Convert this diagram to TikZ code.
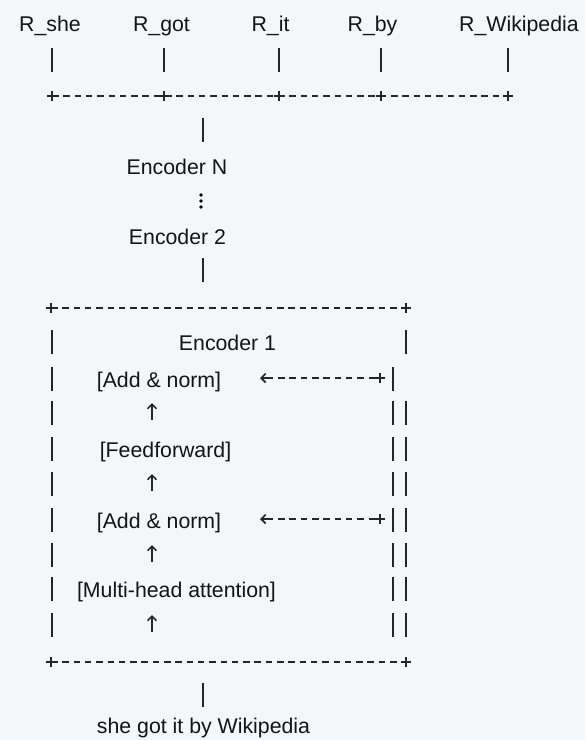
\documentclass[tikz,border=0pt]{standalone}
\usepackage{fontspec}
\setmainfont{Liberation Sans}
\usetikzlibrary{arrows.meta}
\definecolor{paper}{HTML}{F5F6F8}
\definecolor{ink}{HTML}{141414}
\definecolor{stroke}{HTML}{262626}
\tikzset{
  lbl/.style={anchor=base, inner sep=0pt, text=ink, font=\fontsize{21.3}{25}\selectfont},
  bar/.style={draw=stroke, line width=1.6pt},
  rule/.style={draw=stroke, line width=1.7pt, dash pattern=on 6.5pt off 4.8pt},
  plusmark/.pic={\draw[draw=stroke, line width=1.8pt] (-4.8,0) -- (4.8,0) (0,-4.8) -- (0,4.8);},
  arrowtip/.style={draw=stroke, line width=1.7pt, -{Straight Barb[length=4.5pt,width=9pt]}},
}
\begin{document}
\begin{tikzpicture}[x=1pt,y=-1pt]
\fill[paper] (0,0) rectangle (585,740);
\useasboundingbox (0,0) rectangle (585,740);

% output representations
\node[lbl] (rshe)  at (50,31)    {R\_she};
\node[lbl] (rgot)  at (161.5,31) {R\_got};
\node[lbl] (rit)   at (270.5,31) {R\_it};
\node[lbl] (rby)   at (372.5,31) {R\_by};
\node[lbl] (rwiki) at (519,31)   {R\_Wikipedia};
\foreach \x in {52,164,279,381,508} \draw[bar] (\x,48) -- (\x,72);
\draw[rule] (52,96) -- (508,96);
\foreach \x in {52,164,279,381,508} \pic at (\x,96) {plusmark};

% encoder stack
\draw[bar] (203,118) -- (203,142);
\node[lbl] (encN) at (177,174) {Encoder N};
\foreach \y in {195,201,207} \fill[stroke] (201,\y) circle (1.8);
\node[lbl] (enc2) at (177.5,244) {Encoder 2};
\draw[bar] (203,258) -- (203,282);

% encoder 1 frame
\draw[rule] (51,308) -- (406,308);
\foreach \x in {51,406} \pic at (\x,308) {plusmark};
\foreach \b in {350,387,421,457,492,528,563,597,633} \draw[bar] (52,\b-20) -- (52,\b+4);
\foreach \b in {350,421,457,492,528,563,597,633} \draw[bar] (406,\b-20) -- (406,\b+4);
\foreach \b in {387,421,457,492,528,563,597,633} \draw[bar] (393,\b-20) -- (393,\b+4);

\node[lbl] (enc1) at (227.5,350) {Encoder 1};
\node[lbl] (norm1) at (159,387) {[Add \& norm]};
\node[lbl] (ffn)   at (165.5,457) {[Feedforward]};
\node[lbl] (norm2) at (159,528) {[Add \& norm]};
\node[lbl] (mha)   at (176.5,597) {[Multi-head attention]};

% residual connections
\foreach \y in {378,519} {
  \draw[rule] (375,\y) -- (268,\y);
  \draw[arrowtip] (272,\y) -- (260,\y);
  \pic at (380,\y) {plusmark};
}
% flow between sublayers
\foreach \b in {421,492,563,633} \draw[arrowtip] (152,\b-1) -- (152,\b-18);

\draw[rule] (51,662) -- (406,662);
\foreach \x in {51,406} \pic at (\x,662) {plusmark};

% input sentence
\draw[bar] (203,683) -- (203,707);
\node[lbl] (sent) at (203.5,733) {she got it by Wikipedia};
\end{tikzpicture}
\end{document}
